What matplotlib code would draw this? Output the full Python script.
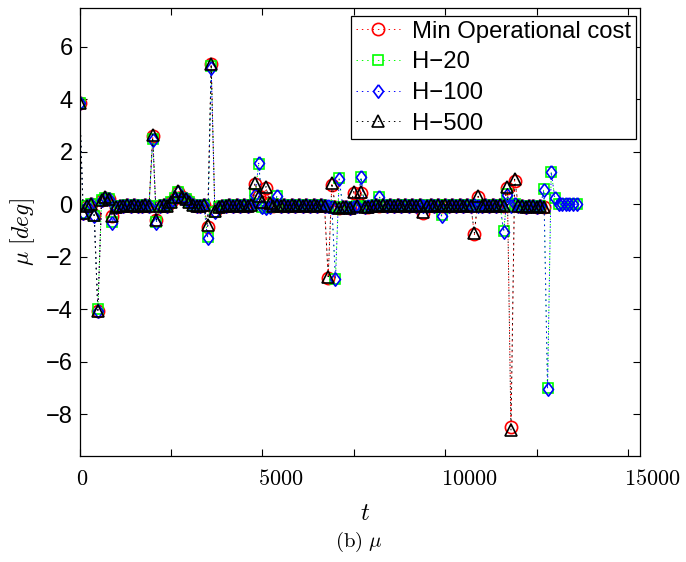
import numpy as np
import matplotlib
matplotlib.use('Agg')
import matplotlib.pyplot as plt
from matplotlib.transforms import ScaledTranslation

plt.rcParams['mathtext.fontset'] = 'cm'
plt.rcParams['font.family'] = ['Liberation Sans', 'DejaVu Sans']

# --- data (one sample every 100 time units) ---
DT = 100
labels = ['Min Operational cost', 'H\u221220', 'H\u2212100', 'H\u2212500']

mu_h500 = [
    3.85, -0.35, -0.05, 0.0, -0.4, -4.05, 0.15, 0.27, 0.2, -0.45,
    -0.1, -0.05, -0.08, -0.03, -0.06, -0.02, -0.05, -0.08, -0.04, -0.06,
    2.65, -0.6, -0.05, -0.03, -0.06, 0.1, 0.27, 0.5, 0.27, 0.2,
    0.1, -0.03, -0.05, -0.06, -0.04, -0.8, 5.33, -0.25, -0.1, -0.05,
    -0.06, -0.03, -0.05, -0.04, -0.06, -0.03, -0.05, -0.04, 0.82, 0.3,
    0.1, 0.67, 0.05, -0.05, -0.03, -0.06, -0.04, -0.05, -0.03, -0.06,
    -0.04, -0.05, -0.03, -0.06, -0.04, -0.05, -0.03, -0.06, -2.76, 0.8,
    -0.1, -0.15, -0.1, -0.12, -0.15, 0.48, -0.05, 0.48, -0.1, -0.12,
    -0.05, -0.03, -0.06, -0.04, -0.05, -0.03, -0.06, -0.04, -0.05, -0.03,
    -0.06, -0.04, -0.05, -0.03, -0.29, -0.05, -0.03, -0.06, -0.04, -0.05,
    -0.03, -0.06, -0.04, -0.05, -0.03, -0.06, -0.04, -0.05, -1.1, 0.3,
    -0.05, -0.03, -0.06, -0.04, -0.05, -0.03, -0.06, 0.67, -8.6, 0.95,
    -0.05, -0.08, -0.1, -0.06, -0.08, -0.1, -0.08, -0.1,
]

mu_min = [
    3.85, -0.35, -0.05, 0.0, -0.42, -4.05, 0.15, 0.25, 0.2, -0.45,
    -0.1, -0.05, -0.08, -0.03, -0.06, -0.02, -0.05, -0.08, -0.04, -0.06,
    2.6, -0.62, -0.05, -0.03, -0.06, 0.1, 0.25, 0.48, 0.27, 0.2,
    0.1, -0.03, -0.05, -0.06, -0.04, -0.85, 5.35, -0.25, -0.1, -0.05,
    -0.06, -0.03, -0.05, -0.04, -0.06, -0.03, -0.05, -0.04, 0.78, 0.3,
    0.1, 0.62, 0.05, -0.05, -0.03, -0.06, -0.04, -0.05, -0.03, -0.06,
    -0.04, -0.05, -0.03, -0.06, -0.04, -0.05, -0.03, -0.06, -2.8, 0.75,
    -0.1, -0.15, -0.1, -0.12, -0.15, 0.44, -0.05, 0.44, -0.1, -0.12,
    -0.05, -0.03, -0.06, -0.04, -0.05, -0.03, -0.06, -0.04, -0.05, -0.03,
    -0.06, -0.04, -0.05, -0.03, -0.32, -0.05, -0.03, -0.06, -0.04, -0.05,
    -0.03, -0.06, -0.04, -0.05, -0.03, -0.06, -0.04, -0.05, -1.15, 0.28,
    -0.05, -0.03, -0.06, -0.04, -0.05, -0.03, -0.06, 0.62, -8.47, 0.9,
    -0.05, -0.08, -0.1, -0.06, -0.08, -0.1, -0.08, -0.1,
]

mu_h100 = [
    3.85, -0.35, -0.05, 0.0, -0.45, -4.05, 0.15, 0.25, 0.2, -0.7,
    -0.1, -0.05, -0.08, -0.03, -0.06, -0.02, -0.05, -0.08, -0.04, -0.06,
    2.45, -0.7, -0.05, -0.03, -0.06, 0.1, 0.25, 0.45, 0.25, 0.2,
    0.1, -0.03, -0.05, -0.06, -0.04, -1.3, 5.2, -0.3, -0.1, -0.05,
    -0.06, -0.03, -0.05, -0.04, -0.06, -0.03, -0.05, -0.04, 0.35, 1.56,
    -0.1, -0.15, -0.1, 0.0, 0.31, -0.05, -0.04, -0.05, -0.03, -0.06,
    -0.04, -0.05, -0.03, -0.06, -0.04, -0.05, -0.03, -0.06, -0.05, -0.1,
    -2.86, 0.95, -0.1, -0.12, -0.15, -0.1, -0.05, 1.02, -0.1, -0.05,
    -0.05, -0.03, 0.29, -0.04, -0.05, -0.03, -0.06, -0.04, -0.05, -0.03,
    -0.06, -0.04, -0.05, -0.03, -0.06, -0.05, -0.03, -0.06, -0.04, -0.45,
    -0.03, -0.06, -0.04, -0.05, -0.03, -0.06, -0.04, -0.05, -0.03, -0.06,
    -0.05, -0.03, -0.06, -0.04, -0.05, -0.03, -1.05, 0.35, -0.05, 0.0,
    -0.05, -0.08, -0.1, -0.06, -0.08, -0.1, -0.08, 0.54, -7.05, 1.24,
    0.22, 0.0, 0.0, 0.0, 0.0, 0.0, 0.0,
]

mu_h20 = [
    3.85, -0.35, -0.05, 0.0, -0.45, -4.0, 0.15, 0.25, 0.2, -0.68,
    -0.1, -0.05, -0.08, -0.03, -0.06, -0.02, -0.05, -0.08, -0.04, -0.06,
    2.48, -0.68, -0.05, -0.03, -0.06, 0.1, 0.25, 0.45, 0.25, 0.2,
    0.1, -0.03, -0.05, -0.06, -0.04, -1.25, 5.25, -0.3, -0.1, -0.05,
    -0.06, -0.03, -0.05, -0.04, -0.06, -0.03, -0.05, -0.04, 0.38, 1.52,
    -0.1, -0.15, -0.1, 0.0, 0.3, -0.05, -0.04, -0.05, -0.03, -0.06,
    -0.04, -0.05, -0.03, -0.06, -0.04, -0.05, -0.03, -0.06, -0.05, -0.1,
    -2.83, 0.98, -0.1, -0.12, -0.15, -0.1, -0.05, 1.05, -0.1, -0.05,
    -0.05, -0.03, 0.27, -0.04, -0.05, -0.03, -0.06, -0.04, -0.05, -0.03,
    -0.06, -0.04, -0.05, -0.03, -0.06, -0.05, -0.03, -0.06, -0.04, -0.42,
    -0.03, -0.06, -0.04, -0.05, -0.03, -0.06, -0.04, -0.05, -0.03, -0.06,
    -0.05, -0.03, -0.06, -0.04, -0.05, -0.03, -1.02, 0.38, -0.05, 0.0,
    -0.05, -0.08, -0.1, -0.06, -0.08, -0.1, -0.08, 0.57, -7.0, 1.22,
    0.25, 0.0, 0.0, 0.0, 0.0, 0.0, 0.0,
]

# MATLAB-like diamond (narrower than a rotated square)
diamond = [(0, 1), (0.75, 0), (0, -1), (-0.75, 0), (0, 1)]

fig = plt.figure(figsize=(6.86, 5.62), dpi=100)
ax = fig.add_axes([0.116, 0.1886, 0.817, 0.7966])

dots = (0, (1.5, 4))
series = [
    (mu_min, 'r', 'o', 8.8),
    (mu_h20, '#00ff00', 's', 6.8),
    (mu_h100, 'b', diamond, 9.6),
    (mu_h500, 'k', '^', 8.2),
]
for (vals, col, mk, ms), lab in zip(series, labels):
    t = np.arange(len(vals)) * DT
    ax.plot(t, vals, color=col, linestyle=dots, linewidth=0.7,
            marker=mk, markersize=ms, markerfacecolor='none',
            markeredgecolor=col, markeredgewidth=1.2, label=lab)

ax.set_xlim(0, 15330)
ax.set_ylim(-9.59, 7.46)
ax.set_xticks([0, 5000, 10000, 15000])
ax.set_xticks([2500, 7500, 12500], minor=True)
ax.set_xticklabels(['$0$', '$5000$', '$10000$', '$15000$'], fontsize=16)
ax.set_yticks([-8, -6, -4, -2, 0, 2, 4, 6])
ax.tick_params(which='both', direction='in', top=True, right=True,
               length=5, width=0.8)
ax.tick_params(axis='y', labelsize=17, pad=5)
ax.tick_params(axis='x', pad=9)
shift = ScaledTranslation(-4 / 100, 0, fig.dpi_scale_trans)
for lbl in ax.get_xticklabels():
    lbl.set_horizontalalignment('left')
    lbl.set_transform(lbl.get_transform() + shift)
for sp in ax.spines.values():
    sp.set_linewidth(0.9)

ax.set_xlabel('$t$', fontsize=18, labelpad=8)
ax.xaxis.label.set_x(0.51)
ax.set_ylabel(r'$\mu\ [deg]$', fontsize=17, labelpad=6)

leg = ax.legend(loc='upper right', bbox_to_anchor=(0.993, 0.983),
                borderaxespad=0, fontsize=17.2, fancybox=False, framealpha=1,
                edgecolor='k', handlelength=1.85, handletextpad=0.5,
                labelspacing=0.36, borderpad=0.2)
leg.get_frame().set_linewidth(0.9)

fig.text(0.523, 1 - 542 / 562, r'$\mathrm{(b)}\ \mu$', fontsize=15,
         ha='center', va='center')

fig.savefig('out.png', dpi=100)
